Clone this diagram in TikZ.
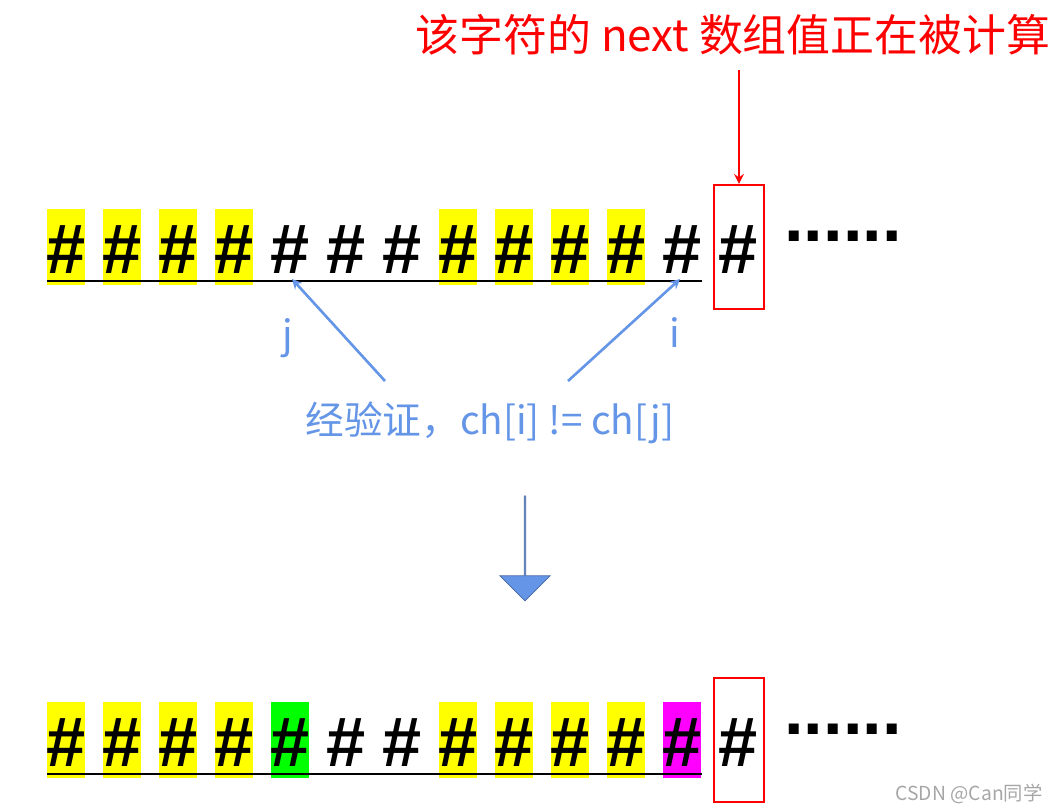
\documentclass[tikz,border=0pt]{standalone}
\usepackage{fontspec}
\setmainfont{Liberation Sans}
\newfontfamily\cjk{Noto Sans CJK SC}
\usetikzlibrary{positioning,shapes.arrows}
\definecolor{hlyellow}{RGB}{255,255,0}
\definecolor{hlgreen}{RGB}{0,255,0}
\definecolor{hlmagenta}{RGB}{255,0,255}
\definecolor{noteblue}{RGB}{100,149,230}
\tikzset{
  hash/.style={font=\fontsize{40}{40}\selectfont\bfseries, inner sep=0pt},
  cellmark/.style={minimum width=0.76cm, minimum height=1.52cm, inner sep=0pt},
  box/.style={draw=red, line width=1.2pt, minimum width=1cm, minimum height=2.48cm, inner sep=0pt},
  note/.style={text=noteblue, font=\fontsize{22}{22}\selectfont\cjk},
}
\begin{document}
\begin{tikzpicture}[x=0.02cm, y=-0.02cm]
    \useasboundingbox (0,0) rectangle (1050,810);

    % Top row
    \foreach \k/\c in {0/hlyellow,1/hlyellow,2/hlyellow,3/hlyellow,7/hlyellow,8/hlyellow,9/hlyellow,10/hlyellow}
        \node[cellmark, fill=\c] at (66+56*\k, 247) {};
    \foreach \k in {0,...,12}
        \node[hash] (t\k) at (66+56*\k, 250) {\#};
    \draw[line width=1.2pt] (47,281) coordinate (tl) -- (702,281) coordinate (tr);
    \node[box] (tbox) at (739,247) {};
    \node[hash] (tdots) at (843,236) {......};

    % Title and arrow
    \node[text=red, font=\fontsize{25}{25}\selectfont\cjk] (title) at (733,35) {该字符的 next 数组值正在被计算};
    \coordinate (top) at (739,70);
    \draw[->, red, line width=1.5pt, >=stealth] (top) -- (tbox.north);

    % Note
    \node[note] (check) at (490,423) {经验证，ch[i] != ch[j]};
    \node[note] (j) at (288,338) {j};
    \node[note] (i) at (675,333) {i};
    \draw[->, noteblue, line width=1.5pt, >=stealth] (385,381) -- (292,279);
    \draw[->, noteblue, line width=1.5pt, >=stealth] (568,381) -- (680,279);

    % Down arrow
    \node[single arrow, shape border rotate=270, draw=noteblue!70!black, fill=noteblue,
          minimum width=1cm, minimum height=2.1cm, single arrow head extend=0.25cm,
          single arrow tip angle=90, inner sep=0pt] (down) at (525,548) {};

    % Bottom row
    \foreach \k/\c in {0/hlyellow,1/hlyellow,2/hlyellow,3/hlyellow,4/hlgreen,7/hlyellow,8/hlyellow,9/hlyellow,10/hlyellow,11/hlmagenta}
        \node[cellmark, fill=\c] at (66+56*\k, 740) {};
    \foreach \k in {0,...,12}
        \node[hash] (b\k) at (66+56*\k, 743) {\#};
    \draw[line width=1.2pt] (47,774) coordinate (bl) -- (702,774) coordinate (br);
    \node[box] (bbox) at (739,740) {};
    \node[hash] (bdots) at (843,729) {......};

    \node[text=gray!70, font=\fontsize{11}{11}\selectfont\cjk] (wm) at (969,794) {CSDN @Can同学};
\end{tikzpicture}
\end{document}
